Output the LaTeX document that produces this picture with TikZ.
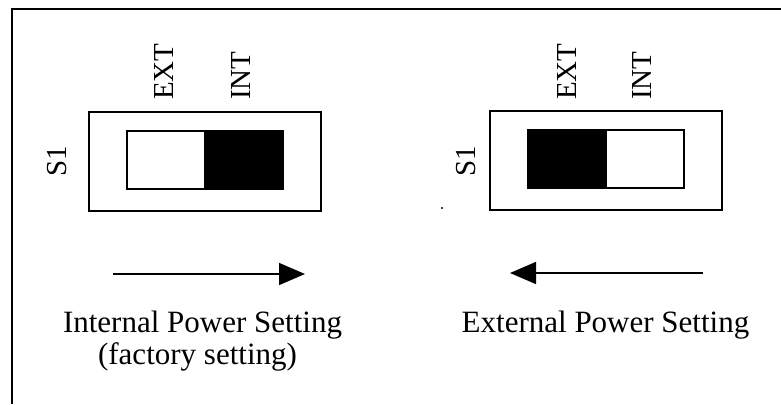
\documentclass[tikz,border=0pt]{standalone}
\usepackage{fontspec}
\setmainfont{Liberation Serif}
\usetikzlibrary{arrows.meta}
\begin{document}
\begin{tikzpicture}[x=1pt,y=-1pt,
    body/.style={draw,line width=2pt,minimum width=232pt,minimum height=99pt,inner sep=0pt},
    half/.style={draw,line width=2pt,minimum width=78pt,minimum height=58pt,inner sep=0pt},
    lbl/.style={font=\fontsize{29}{34}\selectfont,inner sep=0pt},
    caption/.style={font=\fontsize{31}{36}\selectfont,inner sep=0pt,anchor=base},
    side/.style={lbl,rotate=90},
    move/.style={line width=1.5pt,-{Triangle[length=26pt,width=22pt]}}]
    \useasboundingbox (0,0) rectangle (781,404);
    % frame
    \draw[line width=2.5pt] (12,404) -- (12,9) -- (781,9);
    % internal setting
    \node[body] (swint) at (204.5,161.5) {};
    \node[half] (intoff) at (165.5,160) {};
    \node[half,fill=black] (inton) at (243.5,160) {};
    \node[side,anchor=west] (extint) at (164,100) {EXT};
    \node[side,anchor=west] (intint) at (241,100) {INT};
    \node[side] (sint) at (57,161) {S1};
    \coordinate (inttail) at (113,274);
    \coordinate (inthead) at (305,274);
    \draw[move] (inttail) -- (inthead);
    \node[caption] (intname) at (202.5,332) {Internal Power Setting};
    \node[caption] (factory) at (197.5,364) {(factory setting)};
    % external setting
    \node[body] (swext) at (606,160.5) {};
    \node[half,fill=black] (exton) at (567,159) {};
    \node[half] (extoff) at (645,159) {};
    \node[side,anchor=west] (extext) at (567,100) {EXT};
    \node[side,anchor=west] (intext) at (642,100) {INT};
    \node[side] (sext) at (466,161) {S1};
    \coordinate (exttail) at (703,273);
    \coordinate (exthead) at (510,273);
    \draw[move] (exttail) -- (exthead);
    \node[caption] (extname) at (605.5,332) {External Power Setting};
    \fill (442,208) circle (1.2pt);
\end{tikzpicture}
\end{document}
